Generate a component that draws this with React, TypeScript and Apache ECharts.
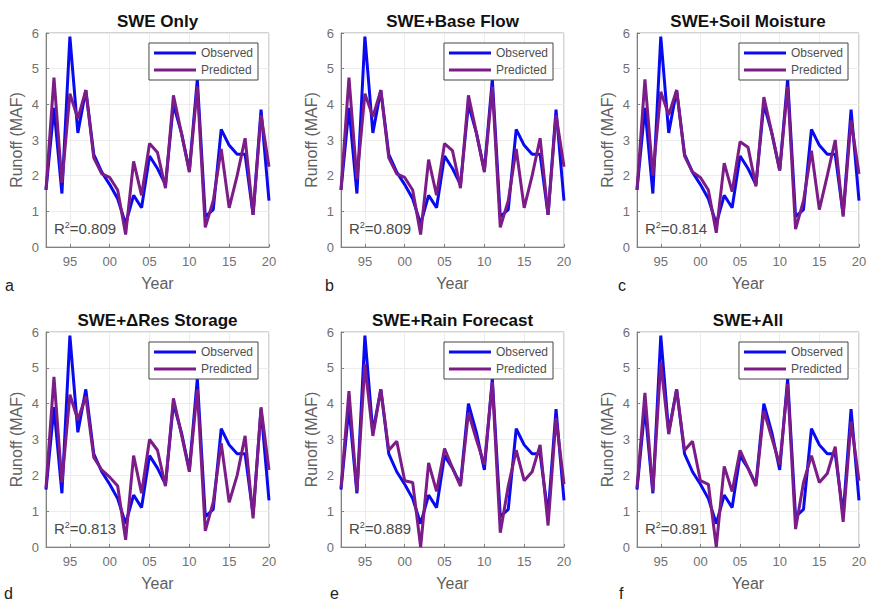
import React, { useEffect, useRef } from 'react';
import * as echarts from 'echarts';

const YEARS = [1992, 1993, 1994, 1995, 1996, 1997, 1998, 1999, 2000, 2001, 2002, 2003, 2004, 2005, 2006, 2007, 2008, 2009, 2010, 2011, 2012, 2013, 2014, 2015, 2016, 2017, 2018, 2019, 2020];

const OBSERVED = [1.6, 3.9, 1.5, 5.9, 3.2, 4.4, 2.6, 2.1, 1.75, 1.35, 0.65, 1.45, 1.1, 2.55, 2.2, 1.75, 4.0, 3.2, 2.15, 4.7, 0.85, 1.05, 3.3, 2.85, 2.6, 2.6, 0.9, 3.85, 1.3];

const PRED_SWE_ONLY = [1.6, 4.75, 1.8, 4.3, 3.6, 4.4, 2.5, 2.05, 1.95, 1.6, 0.35, 2.4, 1.45, 2.9, 2.65, 1.65, 4.25, 3.2, 2.1, 4.5, 0.55, 1.3, 2.75, 1.1, 2.0, 3.05, 0.9, 3.7, 2.25];
const PRED_BASE_FLOW = [1.6, 4.75, 1.9, 4.3, 3.65, 4.4, 2.5, 2.05, 1.95, 1.6, 0.35, 2.45, 1.45, 2.9, 2.7, 1.65, 4.25, 3.2, 2.1, 4.5, 0.55, 1.3, 2.75, 1.1, 2.0, 3.05, 0.9, 3.7, 2.25];
const PRED_SOIL_MOISTURE = [1.6, 4.7, 2.0, 4.35, 3.7, 4.4, 2.55, 2.1, 1.95, 1.6, 0.4, 2.35, 1.55, 2.95, 2.8, 1.7, 4.2, 3.2, 2.15, 4.5, 0.5, 1.3, 2.7, 1.05, 2.0, 3.0, 0.85, 3.55, 2.05];
const PRED_RES_STORAGE = [1.65, 4.75, 1.8, 4.25, 3.55, 4.2, 2.5, 2.15, 1.95, 1.7, 0.2, 2.55, 1.5, 3.0, 2.7, 1.7, 4.15, 3.15, 2.1, 4.4, 0.45, 1.25, 2.9, 1.25, 2.0, 3.1, 0.8, 3.9, 2.15];
const PRED_RAIN_FORECAST = [1.65, 4.35, 1.55, 5.1, 3.1, 4.4, 2.7, 2.95, 1.85, 1.8, 0.0, 2.35, 1.55, 2.75, 2.2, 1.7, 3.75, 3.0, 2.3, 4.6, 0.4, 1.7, 2.7, 1.85, 2.1, 2.85, 0.6, 3.6, 1.75];
const PRED_ALL = [1.65, 4.3, 1.55, 5.15, 3.15, 4.4, 2.7, 2.95, 1.85, 1.75, 0.0, 2.25, 1.55, 2.7, 2.2, 1.7, 3.8, 3.05, 2.3, 4.55, 0.5, 1.8, 2.55, 1.8, 2.05, 2.8, 0.7, 3.5, 1.85];

const PREDICTIONS = [PRED_SWE_ONLY, PRED_BASE_FLOW, PRED_SOIL_MOISTURE, PRED_RES_STORAGE, PRED_RAIN_FORECAST, PRED_ALL];
const PANEL_TITLES = ['SWE Only', 'SWE+Base Flow', 'SWE+Soil Moisture', 'SWE+\u0394Res Storage', 'SWE+Rain Forecast', 'SWE+All'];
const R2_VALUES = ['0.809', '0.809', '0.814', '0.813', '0.889', '0.891'];
const PANEL_LETTERS = ['a', 'b', 'c', 'd', 'e', 'f'];
const X_TICKS = [1995, 2000, 2005, 2010, 2015, 2020];
const SERIES_NAMES = ['Observed', 'Predicted'];

// layout (pixels)
const COL_LEFT = [46, 341, 637];
const COL_WIDTH = [223, 223, 222];
const ROW_TOP = [33, 332];
const ROW_HEIGHT = [214, 215];
const LETTER_X = [5, 325, 618];
const LETTER_X2 = [4, 330, 619];
const LETTER_Y = [285, 593];

const FONT = "'Liberation Sans', Arial, Helvetica, sans-serif";
const BLUE = '#0a0af0';
const PURPLE = '#7c1c88';

export default function App() {
  const ref = useRef<HTMLDivElement>(null);

  useEffect(() => {
    if (!ref.current) return;
    const chart = echarts.init(ref.current, undefined, { renderer: 'svg' });

    const grids: any[] = [];
    const xAxes: any[] = [];
    const yAxes: any[] = [];
    const series: any[] = [];
    const legends: any[] = [];
    const graphics: any[] = [];

    for (let i = 0; i < 6; i++) {
      const row = Math.floor(i / 3);
      const col = i % 3;
      const left = COL_LEFT[col];
      const top = ROW_TOP[row];
      const width = COL_WIDTH[col];
      const height = ROW_HEIGHT[row];

      grids.push({
        left, top, width, height,
        show: true,
        borderColor: '#a8a8a8',
        borderWidth: 1,
        backgroundColor: 'transparent',
        containLabel: false,
      });

      xAxes.push({
        type: 'value',
        gridIndex: i,
        min: 1992,
        max: 2020,
        name: 'Year',
        nameLocation: 'middle',
        nameGap: 28,
        nameTextStyle: { fontSize: 16, color: '#606060', fontFamily: FONT },
        axisLine: { show: true, onZero: false, lineStyle: { color: '#808080', width: 1 } },
        axisTick: { show: true, inside: true, length: 3, customValues: X_TICKS, lineStyle: { color: '#808080' } },
        axisLabel: {
          customValues: X_TICKS,
          margin: 8,
          fontSize: 13,
          color: '#707070',
          fontFamily: FONT,
          formatter: (v: number) => String(v % 100).padStart(2, '0'),
        },
        splitLine: { show: true, lineStyle: { color: '#ececec', width: 1 } },
      });

      yAxes.push({
        type: 'value',
        gridIndex: i,
        min: 0,
        max: 6,
        interval: 1,
        name: 'Runoff (MAF)',
        nameLocation: 'middle',
        nameGap: 22,
        nameTextStyle: { fontSize: 16, color: '#606060', fontFamily: FONT },
        axisLine: { show: true, lineStyle: { color: '#808080', width: 1 } },
        axisTick: { show: true, inside: true, length: 3, lineStyle: { color: '#808080' } },
        axisLabel: { margin: 7, fontSize: 13, color: '#707070', fontFamily: FONT },
        splitLine: { show: true, lineStyle: { color: '#ececec', width: 1 } },
      });

      series.push({
        type: 'line',
        name: SERIES_NAMES[0],
        xAxisIndex: i,
        yAxisIndex: i,
        data: YEARS.map((y, k) => [y, OBSERVED[k]]),
        symbol: 'none',
        showSymbol: false,
        clip: true,
        z: 2,
        lineStyle: { color: BLUE, width: 3 },
        itemStyle: { color: BLUE },
      });
      series.push({
        type: 'line',
        name: SERIES_NAMES[1],
        xAxisIndex: i,
        yAxisIndex: i,
        data: YEARS.map((y, k) => [y, PREDICTIONS[i][k]]),
        symbol: 'none',
        showSymbol: false,
        clip: true,
        z: 3,
        lineStyle: { color: PURPLE, width: 3 },
        itemStyle: { color: PURPLE },
      });

      legends.push({
        right: 877 - (left + width - 11),
        top: top + 10,
        orient: 'vertical',
        data: SERIES_NAMES,
        icon: 'rect',
        itemWidth: 42,
        itemHeight: 3,
        itemGap: 5,
        padding: [4, 5, 4, 5],
        borderColor: '#444',
        borderWidth: 1,
        backgroundColor: '#ffffff',
        selectedMode: false,
        textStyle: { fontSize: 12, color: '#505050', fontFamily: FONT },
      });

      // title
      graphics.push({
        type: 'text',
        x: left + width / 2,
        y: top - 12,
        style: {
          text: PANEL_TITLES[i],
          fontSize: 17,
          fontWeight: 'bold',
          fontFamily: FONT,
          fill: '#111',
          align: 'center',
          verticalAlign: 'middle',
        },
      });

      // R^2 annotation
      graphics.push({
        type: 'text',
        x: left + 8,
        y: top + height - 19,
        z: 10,
        style: {
          text: '{a|R}{s|2}{a|=' + R2_VALUES[i] + '}',
          verticalAlign: 'middle',
          rich: {
            a: { fontSize: 15, fill: '#4a4a4a', fontFamily: FONT },
            s: { fontSize: 9, fill: '#4a4a4a', fontFamily: FONT, verticalAlign: 'top', padding: [0, 0, 6, 0] },
          },
        },
      });

      // panel letter
      graphics.push({
        type: 'text',
        x: row === 0 ? LETTER_X[col] : LETTER_X2[col],
        y: LETTER_Y[row],
        style: {
          text: PANEL_LETTERS[i],
          fontSize: 16,
          fontFamily: FONT,
          fill: '#222',
          verticalAlign: 'middle',
        },
      });
    }

    chart.setOption({
      animation: false,
      backgroundColor: '#ffffff',
      grid: grids,
      xAxis: xAxes,
      yAxis: yAxes,
      series,
      legend: legends,
      graphic: graphics,
    });

    return () => chart.dispose();
  }, []);

  return (
    <div
      ref={ref}
      style={{ position: 'fixed', left: 0, top: 0, width: 877, height: 601, background: '#fff' }}
    />
  );
}
